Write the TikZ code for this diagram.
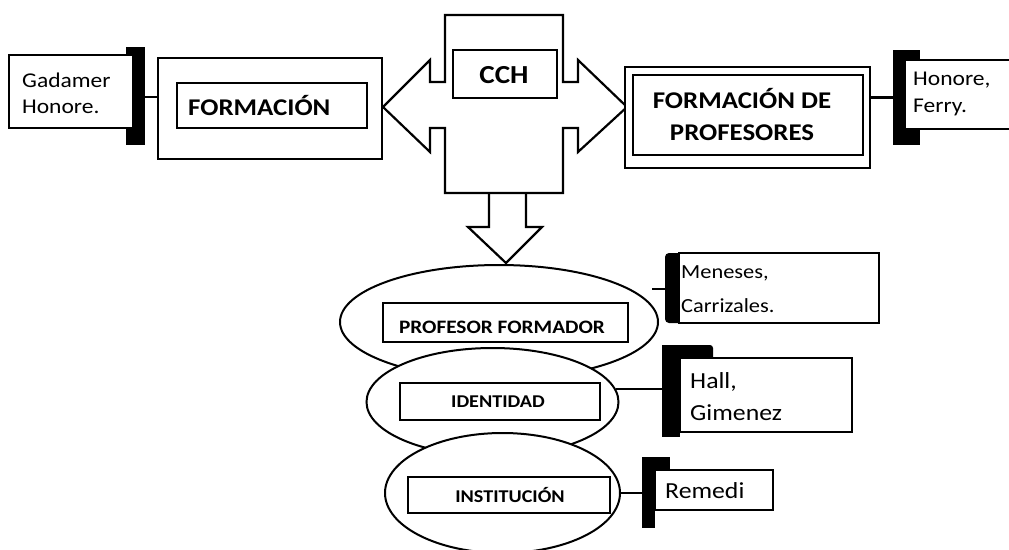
\documentclass[tikz,border=0pt]{standalone}
\usepackage{fontspec}
\setmainfont{Carlito}[FakeStretch=1.12]
\usetikzlibrary{shapes.geometric}
\begin{document}
\begin{tikzpicture}[x=1pt,y=-1pt,
  box/.style={draw, line width=2pt, inner sep=0pt, fill=white},
  thinbox/.style={draw, line width=1.6pt, inner sep=0pt, fill=white},
  bar/.style={fill=black, draw=none, inner sep=0pt},
  oval/.style={ellipse, draw, line width=2pt, fill=white, inner sep=0pt},
  conn/.style={line width=2.4pt},
  shape line/.style={line width=2.2pt, line join=miter},
  txt/.style={inner sep=0pt, align=left},
  fs/.style args={#1/#2}{font=\fontsize{#1}{#2}\selectfont},
  bfs/.style args={#1/#2}{font=\fontsize{#1}{#2}\selectfont\bfseries}
]
\useasboundingbox (0,0) rectangle (1009,549);
\begin{scope}
\clip (0,0) rectangle (1009,549);

% Gadamer
\node[bar, minimum width=19, minimum height=98] (gadbar) at (135.5,96) {};
\node[thinbox, minimum width=124, minimum height=73] (gad) at (71,91.5) {};
\node[txt, fs=21/26, anchor=base west] (gadT) at (22,113) {Gadamer\\Honore.};

% FORMACION
\node[box, minimum width=224, minimum height=101] (formOuter) at (270,108.5) {};
\node[box, minimum width=190, minimum height=45] (formInner) at (272,105.5) {};
\node[txt, bfs=24/28, anchor=base west] (formT) at (188,115) {FORMACIÓN};

% Cross arrow
\draw[shape line] (445,15) -- (563,15) -- (563,82) -- (578,82) -- (578,60) -- (627,107)
  -- (578,152) -- (578,128) -- (563,128) -- (563,193) -- (445,193) -- (445,128)
  -- (430,128) -- (430,152) -- (383,107) -- (430,60) -- (430,82) -- (445,82) -- cycle;
\node[box, minimum width=104, minimum height=48] (cch) at (505,74) {};
\node[txt, bfs=26/30, anchor=base] (cchT) at (504,83) {CCH};

% Down arrow
\draw[shape line] (489,193) -- (489,227) -- (468,227) -- (506,263) -- (542,227) -- (526,227) -- (526,193);

% FORMACION DE PROFESORES
\node[box, minimum width=245, minimum height=101] (fdpOuter) at (747.5,117.5) {};
\node[box, minimum width=230, minimum height=80] (fdpInner) at (748,115) {};
\node[txt, align=center, bfs=24/32, anchor=base] (fdpT) at (742,140) {FORMACIÓN DE\\PROFESORES};

% Honore
\node[bar, minimum width=27, minimum height=95] (honbar) at (906.5,97.5) {};
\node[thinbox, minimum width=115, minimum height=69] (hon) at (962.5,94.5) {};
\node[txt, fs=21/27, anchor=base west] (honT) at (913,112) {Honore,\\Ferry.};

% Ellipses
\node[oval, minimum width=318, minimum height=114] (e1) at (499,322) {};
\node[oval, minimum width=252, minimum height=108] (e2) at (492.5,402) {};
\node[oval, minimum width=235, minimum height=120] (e3) at (502.5,493) {};

\node[thinbox, minimum width=245, minimum height=39] (pf) at (505.5,322.5) {};
\node[txt, bfs=19/22, anchor=base] (pfT) at (502,333) {PROFESOR FORMADOR};
\node[thinbox, minimum width=200, minimum height=37] (id) at (500,401.5) {};
\node[txt, bfs=18/22, anchor=base] (idT) at (498,407) {IDENTIDAD};
\node[thinbox, minimum width=202, minimum height=36] (inst) at (509,495) {};
\node[txt, bfs=18/22, anchor=base] (instT) at (510,502) {INSTITUCIÓN};

% Meneses
\node[bar, rounded corners=4pt, minimum width=20, minimum height=70] (menbar) at (675,288) {};
\node[thinbox, minimum width=200, minimum height=70] (men) at (779,288) {};
\node[txt, fs=20/34, anchor=base west] (menT) at (681,312) {Meneses,\\Carrizales.};
\coordinate (menstub) at (652,289);

% Hall
\node[bar, minimum width=18, minimum height=92] (hallbar) at (671,391) {};
\fill[rounded corners=3pt] (662,345) rectangle (713,360);
\node[thinbox, minimum width=172, minimum height=74] (hall) at (766,395) {};
\node[txt, fs=23/32, anchor=base west] (hallT) at (690,420) {Hall,\\Gimenez};

% Remedi
\node[bar, minimum width=13, minimum height=71] (rembar) at (648.5,492.5) {};
\fill (642,457) rectangle (670,472);
\node[thinbox, minimum width=118, minimum height=40] (rem) at (714,490) {};
\node[txt, fs=23/28, anchor=base west] (remT) at (665,498) {Remedi};

% Connectors
\draw[conn] (gadbar.east |- 0,97) -- (formOuter.west |- 0,97);
\draw[conn] (fdpOuter.east |- honbar.west) -- (honbar.west);
\draw[conn] (menstub) -- (menstub -| menbar.west);
\draw[conn] (e2.6) -- (e2.6 -| hallbar.west);
\draw[conn] (e3.east) -- (e3.east -| rembar.west);
\end{scope}
\end{tikzpicture}
\end{document}
